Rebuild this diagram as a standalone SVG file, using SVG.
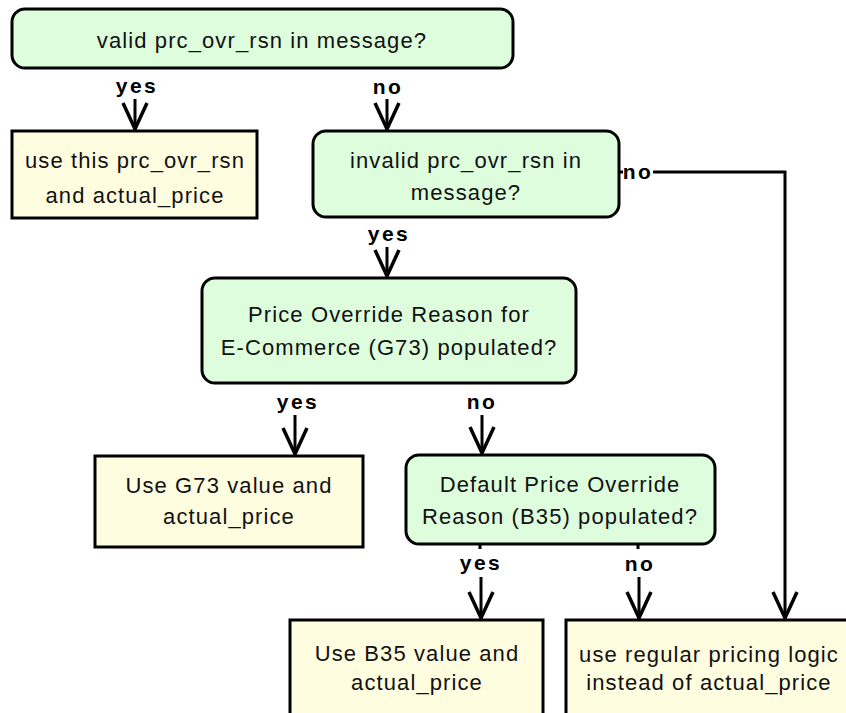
<svg xmlns="http://www.w3.org/2000/svg" width="846" height="713" viewBox="0 0 846 713">
  <style>
    .decision { fill: #ddfddd; stroke: #000; stroke-width: 3; }
    .action { fill: #fffde0; stroke: #000; stroke-width: 3; }
    .txt { font-family: "Liberation Sans", Arial, sans-serif; font-size: 22px; letter-spacing: 1.1px; fill: #111; text-anchor: middle; }
    .lbl { font-family: "Liberation Sans", Arial, sans-serif; font-size: 21px; font-weight: bold; letter-spacing: 2.5px; fill: #000; text-anchor: middle; }
    .edge { fill: none; stroke: #000; stroke-width: 3; }
  </style>
  <defs>
    <marker id="vee" markerUnits="userSpaceOnUse" markerWidth="40" markerHeight="40" viewBox="-30 -20 40 40" refX="0" refY="0" orient="auto" overflow="visible">
      <path d="M-26,-12 L0,0 L-26,12" fill="none" stroke="#000" stroke-width="3.5" stroke-linejoin="round"/>
    </marker>
  </defs>

  <rect width="846" height="713" fill="#fff"/>

  <!-- decision nodes -->
  <g id="n-valid">
    <rect class="decision" x="12" y="9" width="501" height="59" rx="13"/>
    <text class="txt" x="262" y="48">valid prc_ovr_rsn in message?</text>
  </g>
  <g id="n-invalid">
    <rect class="decision" x="313" y="131" width="306" height="86" rx="13"/>
    <text class="txt" x="466" y="168">invalid prc_ovr_rsn in</text>
    <text class="txt" x="466" y="200">message?</text>
  </g>
  <g id="n-g73check">
    <rect class="decision" x="202" y="278" width="374" height="105" rx="13"/>
    <text class="txt" x="389" y="322">Price Override Reason for</text>
    <text class="txt" x="389" y="355">E-Commerce (G73) populated?</text>
  </g>
  <g id="n-b35check">
    <rect class="decision" x="406" y="455" width="309" height="89" rx="13"/>
    <text class="txt" x="560" y="492">Default Price Override</text>
    <text class="txt" x="560" y="524">Reason (B35) populated?</text>
  </g>

  <!-- action nodes -->
  <g id="n-usethis">
    <rect class="action" x="12" y="131" width="245" height="87"/>
    <text class="txt" x="135" y="168">use this prc_ovr_rsn</text>
    <text class="txt" x="135" y="203">and actual_price</text>
  </g>
  <g id="n-useg73">
    <rect class="action" x="95" y="456" width="268" height="91"/>
    <text class="txt" x="229" y="493">Use G73 value and</text>
    <text class="txt" x="229" y="524">actual_price</text>
  </g>
  <g id="n-useb35">
    <rect class="action" x="290" y="620" width="253" height="110"/>
    <text class="txt" x="417" y="661">Use B35 value and</text>
    <text class="txt" x="417" y="690">actual_price</text>
  </g>
  <g id="n-regular">
    <rect class="action" x="566" y="620" width="300" height="110"/>
    <text class="txt" x="709" y="662">use regular pricing logic</text>
    <text class="txt" x="709" y="690">instead of actual_price</text>
  </g>

  <!-- connectors with their branch labels -->
  <g id="connectors">
    <text class="lbl" x="137" y="93">yes</text>
    <path class="edge" d="M135,99 V129" marker-end="url(#vee)"/>

    <text class="lbl" x="388" y="94">no</text>
    <path class="edge" d="M387,99 V129" marker-end="url(#vee)"/>

    <text class="lbl" x="389" y="241">yes</text>
    <path class="edge" d="M387,247 V276" marker-end="url(#vee)"/>

    <path class="edge" d="M619,172 H623"/>
    <text class="lbl" x="638" y="179">no</text>
    <path class="edge" d="M653,172 H785 V618" marker-end="url(#vee)"/>

    <text class="lbl" x="298" y="409">yes</text>
    <path class="edge" d="M295,415 V454" marker-end="url(#vee)"/>

    <text class="lbl" x="482" y="409">no</text>
    <path class="edge" d="M482,415 V453" marker-end="url(#vee)"/>

    <path class="edge" d="M480,544 V549"/>
    <text class="lbl" x="481" y="570">yes</text>
    <path class="edge" d="M481,577 V618" marker-end="url(#vee)"/>

    <path class="edge" d="M638,544 V549"/>
    <text class="lbl" x="640" y="571">no</text>
    <path class="edge" d="M639,577 V618" marker-end="url(#vee)"/>
  </g>
</svg>
